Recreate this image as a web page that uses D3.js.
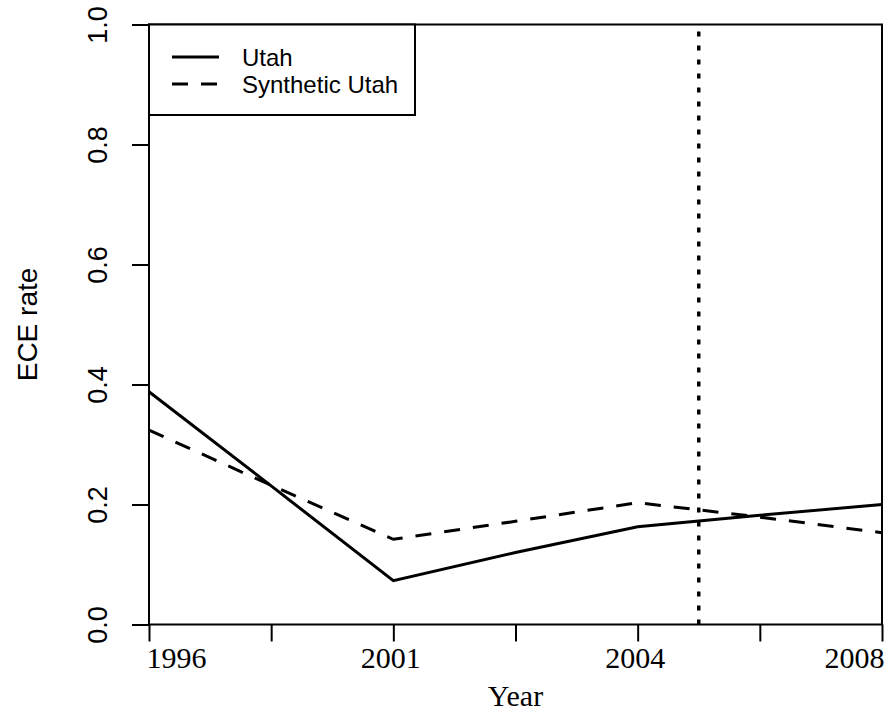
<!DOCTYPE html>
<html>
<head>
<meta charset="utf-8">
<script src="https://cdn.jsdelivr.net/npm/d3@7"></script>
<style>
  body { margin: 0; background: #fff; }
</style>
</head>
<body>
<svg id="chart"></svg>
<script>
// x positions are period indexes, only every other one gets a year label
const periods = [1, 2, 3, 4, 5, 6, 7];
const yearLabels = ["1996", "", "2001", "", "2004", "", "2008"];
const utah = [0.388, 0.231, 0.073, 0.120, 0.163, 0.182, 0.200];
const synthUtah = [0.324, 0.232, 0.142, 0.172, 0.203, 0.179, 0.153];
const yTicks = [0, 0.2, 0.4, 0.6, 0.8, 1.0];
const treatment = 5.5;
const legendNames = ["Utah", "Synthetic Utah"];

const width = 890, height = 716;
const margin = { top: 24.5, right: 8, bottom: 91.5, left: 149 };

const svg = d3.select("#chart").attr("width", width).attr("height", height);

const x = d3.scaleLinear().domain([1, 7]).range([margin.left, width - margin.right]);
const y = d3.scaleLinear().domain([0, 1]).range([height - margin.bottom, margin.top]);

// x axis
const xAxis = svg.append("g")
  .attr("transform", "translate(0," + y(0) + ")")
  .call(d3.axisBottom(x).tickValues(periods).tickSize(17).tickSizeOuter(0)
    .tickFormat((d, i) => yearLabels[i]));
xAxis.select(".domain").remove();
xAxis.selectAll("line").attr("stroke", "#000").attr("stroke-width", 2);
xAxis.selectAll("text")
  .attr("y", 43).attr("dy", null)
  .style("font-family", "'Liberation Serif', 'Times New Roman', serif")
  .style("font-size", "30px").attr("fill", "#000")
  // keep the end labels inside the figure
  .attr("text-anchor", (d, i) => i === 0 ? "start" : (i === periods.length - 1 ? "end" : "middle"))
  .attr("dx", (d, i) => i === 0 ? -3 : (i === periods.length - 1 ? 2 : -3));

// y axis, labels turned like R's default
const yAxis = svg.append("g")
  .attr("transform", "translate(" + x(1) + ",0)")
  .call(d3.axisLeft(y).tickValues(yTicks).tickSize(17).tickSizeOuter(0).tickFormat(d3.format(".1f")));
yAxis.select(".domain").remove();
yAxis.selectAll("line").attr("stroke", "#000").attr("stroke-width", 2);
yAxis.selectAll("text")
  .attr("x", null).attr("dy", null)
  .attr("transform", "translate(-42,0) rotate(-90)")
  .attr("text-anchor", "middle")
  .style("font-family", "'Liberation Sans', Arial, sans-serif")
  .style("font-size", "27px").attr("fill", "#000");

// box
svg.append("rect")
  .attr("x", x(1)).attr("y", y(1))
  .attr("width", x(7) - x(1)).attr("height", y(0) - y(1))
  .attr("fill", "none").attr("stroke", "#000").attr("stroke-width", 2);

// axis titles
svg.append("text")
  .attr("x", (x(1) + x(7)) / 2).attr("y", 706)
  .attr("text-anchor", "middle")
  .style("font-family", "'Liberation Serif', 'Times New Roman', serif")
  .style("font-size", "30px")
  .text("Year");
svg.append("text")
  .attr("transform", "translate(37," + (y(0) + y(1)) / 2 + ") rotate(-90)")
  .attr("text-anchor", "middle")
  .style("font-family", "'Liberation Sans', Arial, sans-serif")
  .style("font-size", "28px")
  .text("ECE rate");

// treatment year
svg.append("line")
  .attr("x1", x(treatment)).attr("x2", x(treatment))
  .attr("y1", y(0)).attr("y2", y(1))
  .attr("stroke", "#000").attr("stroke-width", 3.5)
  .attr("stroke-dasharray", "5,9");

const line = d3.line().x((d, i) => x(periods[i])).y(d => y(d));

svg.append("path").datum(utah)
  .attr("d", line)
  .attr("fill", "none").attr("stroke", "#000").attr("stroke-width", 3);
svg.append("path").datum(synthUtah)
  .attr("d", line)
  .attr("fill", "none").attr("stroke", "#000").attr("stroke-width", 3)
  .attr("stroke-dasharray", "16,13");

// legend
const legend = svg.append("g");
legend.append("rect")
  .attr("x", x(1)).attr("y", y(1))
  .attr("width", 266).attr("height", 90.5)
  .attr("fill", "#fff").attr("stroke", "#000").attr("stroke-width", 2);
legendNames.forEach((name, i) => {
  const ly = 57 + i * 27;
  legend.append("line")
    .attr("x1", 172).attr("x2", 219).attr("y1", ly).attr("y2", ly)
    .attr("stroke", "#000").attr("stroke-width", 3)
    .attr("stroke-dasharray", i === 0 ? null : "16,13");
  legend.append("text")
    .attr("x", 242).attr("y", ly + 9)
    .style("font-family", "'Liberation Sans', Arial, sans-serif")
    .style("font-size", "24px")
    .text(name);
});
</script>
</body>
</html>
